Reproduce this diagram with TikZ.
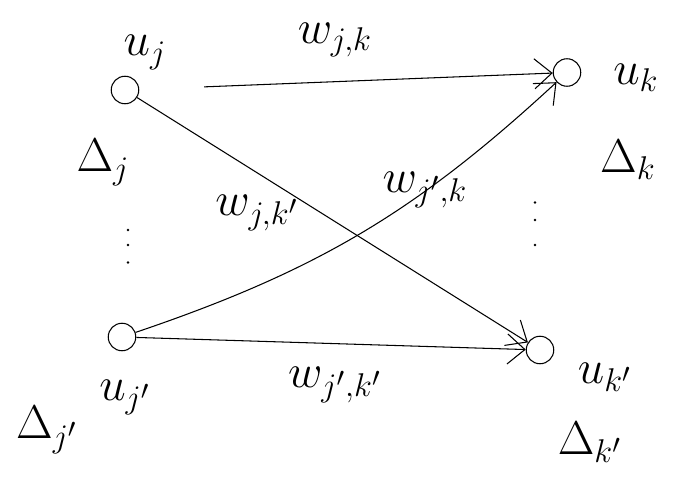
\documentclass[tikz,border=0pt]{standalone}
\usepackage{amsmath}
\usetikzlibrary{arrows.meta, positioning}

\begin{document}
\begin{tikzpicture}[
  lbl/.style={font=\huge, scale=1.3},
  unit/.style={draw, semithick, circle, minimum size=0.55cm, inner sep=0pt},
  arr/.style={-{Straight Barb[length=3.5mm, width=6mm]}, semithick},
  dotc/.style={circle, fill, minimum size=1.6pt, inner sep=0pt},
]
\useasboundingbox (0,0) rectangle (13.5,-9.58);

%% ---- Units of layer j ----
\node[unit] (uj)  at (2.50,-1.80) {};
\node[unit] (ujp) at (2.44,-6.74) {};
\node[lbl] (uj_lbl)  at (2.90,-1.05) {$u_j$};
\node[lbl] (dj_lbl)  at (2.06,-3.25) {$\Delta_j$};
\node[lbl] (ujp_lbl) at (2.50,-7.95) {$u_{j'}$};
\node[lbl] (djp_lbl) at (0.94,-8.60) {$\Delta_{j'}$};
\foreach \y [count=\i] in {-4.60,-4.90,-5.25}
  \node[dotc] (dj\i) at (2.56,\y) {};

%% ---- Units of layer k ----
\node[unit] (uk)  at (11.34,-1.45) {};
\node[unit] (ukp) at (10.80,-7.00) {};
\node[lbl] (uk_lbl)  at (12.72,-1.55) {$u_k$};
\node[lbl] (dk_lbl)  at (12.56,-3.20) {$\Delta_k$};
\node[lbl] (ukp_lbl) at (12.10,-7.55) {$u_{k'}$};
\node[lbl] (dkp_lbl) at (11.80,-8.85) {$\Delta_{k'}$};
\foreach \y [count=\i] in {-4.05,-4.40,-4.90}
  \node[dotc] (dk\i) at (10.70,\y) {};

%% ---- Weights ----
\draw[arr, shorten <=1.3cm] (uj) -- (uk);
\draw[arr] (uj) -- (ukp);
\draw[arr] (ujp) to[bend right=12] (uk);
\draw[arr] (ujp) -- (ukp);

\node[lbl] (w_jk)   at (6.70,-0.80) {$w_{j,k}$};
\node[lbl] (w_jkp)  at (5.14,-4.26) {$w_{j,k'}$};
\node[lbl] (w_jpk)  at (8.50,-3.80) {$w_{j',k}$};
\node[lbl] (w_jpkp) at (6.70,-7.70) {$w_{j',k'}$};

\end{tikzpicture}
\end{document}
